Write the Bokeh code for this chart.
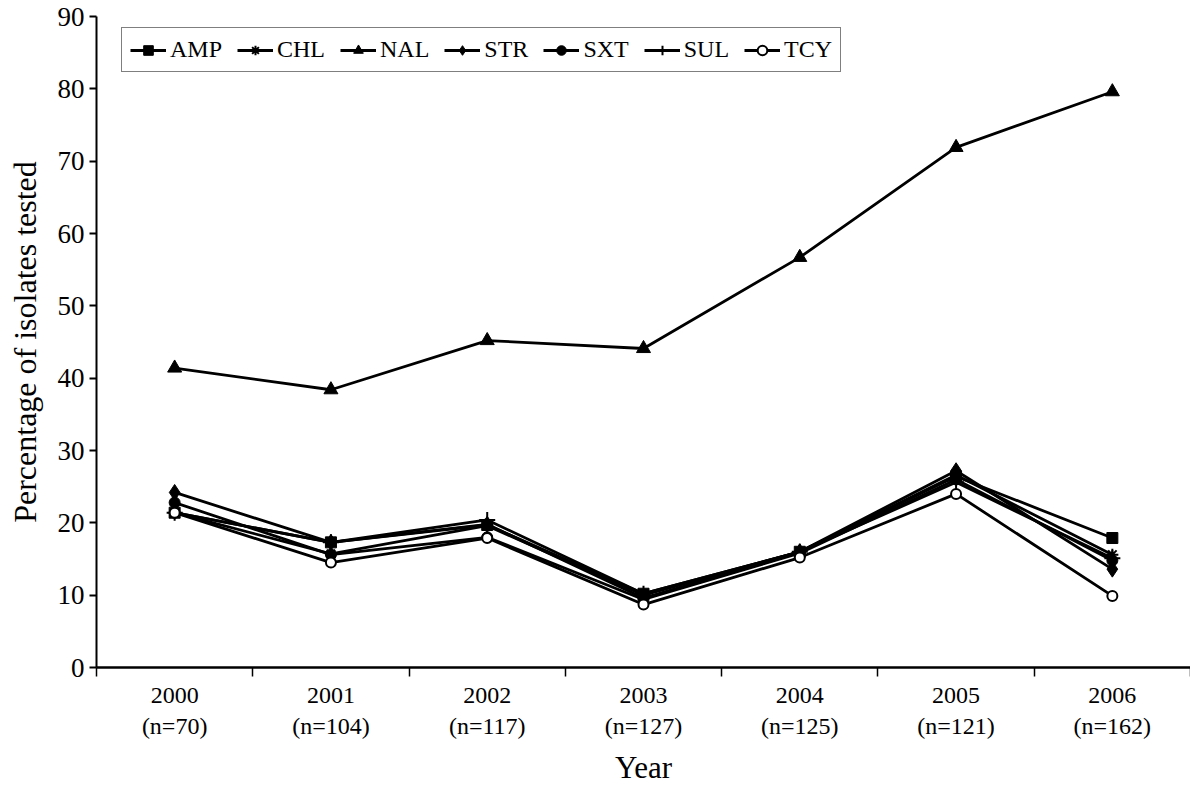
from bokeh.plotting import figure
from bokeh.models import FixedTicker, Legend, LegendItem, Range1d
from bokeh.embed import file_html
from bokeh.resources import INLINE

years = ["2000", "2001", "2002", "2003", "2004", "2005", "2006"]
n_values = [70, 104, 117, 127, 125, 121, 162]
x_idx = list(range(len(years)))

AMP = [21.4, 17.3, 19.7, 10.2, 16.0, 26.4, 17.9]
CHL = [21.4, 15.7, 19.6, 10.0, 16.0, 26.6, 15.6]
NAL = [41.4, 38.4, 45.2, 44.1, 56.7, 71.9, 79.6]
STR = [24.2, 17.3, 19.8, 9.6, 16.0, 27.2, 13.6]
SXT = [22.8, 15.6, 18.0, 9.4, 15.8, 26.0, 14.8]
SUL = [21.4, 17.3, 20.4, 10.2, 16.0, 25.6, 15.1]
TCY = [21.4, 14.5, 17.9, 8.7, 15.2, 24.0, 9.9]

series = [
    ("AMP", AMP, "square", 11, "black"),
    ("CHL", CHL, "asterisk", 12, "black"),
    ("NAL", NAL, "triangle", 14, "black"),
    ("STR", STR, "diamond", 16, "black"),
    ("SXT", SXT, "circle", 11, "black"),
    ("SUL", SUL, "cross", 16, "black"),
    ("TCY", TCY, "circle", 10, "white"),
]

FONT = "Liberation Serif"

p = figure(width=1190, height=787, output_backend="svg", toolbar_location=None,
           x_range=Range1d(-0.5, 6.5), y_range=Range1d(0, 90),
           min_border_left=96, min_border_right=0, min_border_top=16, min_border_bottom=119)
p.outline_line_color = None
p.grid.visible = False
p.background_fill_color = "white"
p.border_fill_color = "white"

# y axis
ya = p.yaxis[0]
ya.ticker = FixedTicker(ticks=list(range(0, 91, 10)))
ya.axis_line_width = 2
ya.axis_line_color = "black"
ya.major_tick_line_width = 2
ya.major_tick_line_color = "black"
ya.major_tick_out = 7
ya.major_tick_in = 0
ya.minor_tick_line_color = None
ya.major_label_text_font = FONT
ya.major_label_text_font_size = "27px"
ya.major_label_text_color = "black"
ya.major_label_standoff = 5
ya.axis_label = "Percentage of isolates tested"
ya.axis_label_text_font = FONT
ya.axis_label_text_font_size = "32px"
ya.axis_label_text_font_style = "normal"
ya.axis_label_text_color = "black"
ya.axis_label_standoff = 12

# x axis
xa = p.xaxis[0]
xa.ticker = FixedTicker(ticks=x_idx, minor_ticks=[i - 0.5 for i in range(len(years) + 1)])
xa.major_label_overrides = {i: f"{years[i]}\n(n={n_values[i]})" for i in x_idx}
xa.axis_line_width = 2.5
xa.axis_line_color = "black"
xa.major_tick_out = 0
xa.major_tick_in = 0
xa.minor_tick_out = 9
xa.minor_tick_in = 0
xa.minor_tick_line_width = 1.5
xa.minor_tick_line_color = "black"
xa.major_label_text_font = FONT
xa.major_label_text_font_size = "24px"
xa.major_label_text_color = "black"
xa.major_label_standoff = 5
xa.axis_label = "Year"
xa.axis_label_text_font = FONT
xa.axis_label_text_font_size = "31px"
xa.axis_label_text_font_style = "normal"
xa.axis_label_text_color = "black"
xa.axis_label_standoff = 8

items = []
for name, vals, marker, size, fill in series:
    ln = p.line(x_idx, vals, line_color="black", line_width=2.8)
    sc = p.scatter(x_idx, vals, marker=marker, size=size, line_color="black",
                   fill_color=fill, line_width=2 if marker in ("asterisk", "cross") or fill == "white" else 1)
    items.append(LegendItem(label=name, renderers=[ln, sc]))

legend = Legend(items=items, orientation="horizontal", location=(25, 595))
legend.label_text_font = FONT
legend.label_text_font_size = "24px"
legend.label_text_color = "black"
legend.glyph_width = 36
legend.glyph_height = 24
legend.label_standoff = 4
legend.spacing = 15
legend.padding = 8
legend.margin = 0
legend.border_line_color = "black"
legend.border_line_width = 1.5
legend.background_fill_alpha = 1
p.add_layout(legend, "center")

open("out.html", "w").write(file_html(p, INLINE))
